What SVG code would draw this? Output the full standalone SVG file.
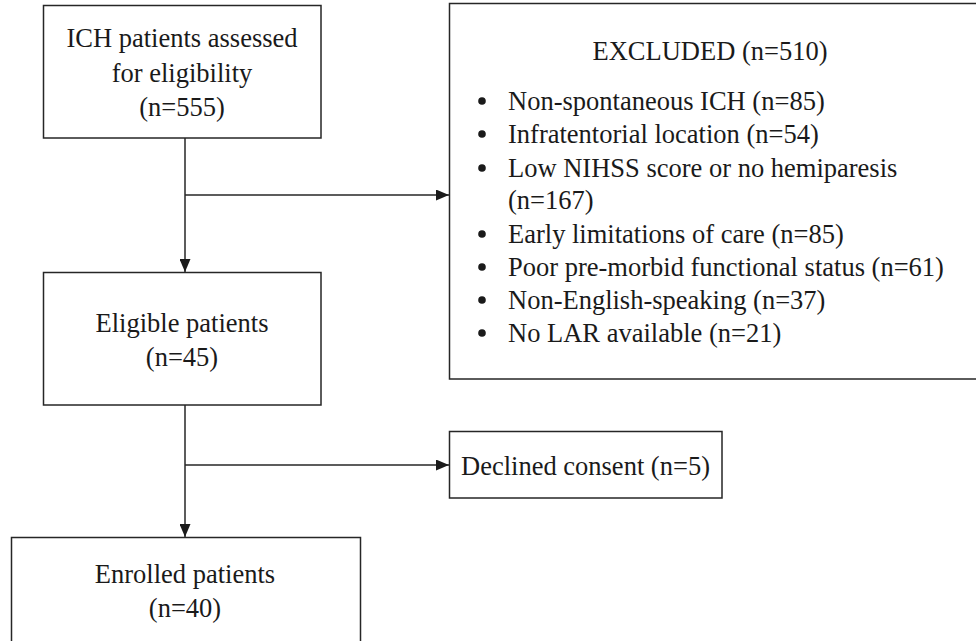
<svg xmlns="http://www.w3.org/2000/svg" width="976" height="641" viewBox="0 0 976 641">
<style>
.box{fill:#fff;stroke:#262626;stroke-width:1.5}
.ln{fill:none;stroke:#262626;stroke-width:1.5}
.t{font-family:'Liberation Serif','DejaVu Serif',serif;font-size:26.5px;fill:#1a1a1a}
.c{text-anchor:middle}
</style>
<defs>
<marker id="ah" viewBox="0 0 13 11" refX="13" refY="5.5" markerWidth="13" markerHeight="11" markerUnits="userSpaceOnUse" orient="auto">
<path d="M0,0 L13,5.5 L0,11 Z" fill="#1a1a1a"/>
</marker>
</defs>
<rect width="976" height="641" fill="#fff"/>
<g id="connectors">
<path class="ln" d="M185,138 V272" marker-end="url(#ah)"/>
<path class="ln" d="M185,195 H449" marker-end="url(#ah)"/>
<path class="ln" d="M185,405 V537" marker-end="url(#ah)"/>
<path class="ln" d="M185,465 H449" marker-end="url(#ah)"/>
</g>
<g id="assessed" class="t" font-family="Liberation Serif, serif">
<rect class="box" x="43.5" y="5.5" width="277.5" height="132.5"/>
<text class="c" x="182" y="47">ICH patients assessed</text>
<text class="c" x="182" y="82">for eligibility</text>
<text class="c" x="182" y="116">(n=555)</text>
</g>
<g id="excluded" class="t" font-family="Liberation Serif, serif">
<rect class="box" x="449.5" y="3.5" width="540" height="375.5"/>
<text class="c" x="710" y="60">EXCLUDED (n=510)</text>
<g fill="#1a1a1a">
<circle cx="482" cy="101" r="3.8"/>
<circle cx="482" cy="134" r="3.8"/>
<circle cx="482" cy="168" r="3.8"/>
<circle cx="482" cy="234" r="3.8"/>
<circle cx="482" cy="267" r="3.8"/>
<circle cx="482" cy="300" r="3.8"/>
<circle cx="482" cy="333" r="3.8"/>
</g>
<text x="508" y="110">Non-spontaneous ICH (n=85)</text>
<text x="508" y="143">Infratentorial location (n=54)</text>
<text x="508" y="177">Low NIHSS score or no hemiparesis</text>
<text x="508" y="209">(n=167)</text>
<text x="508" y="243">Early limitations of care (n=85)</text>
<text x="508" y="276">Poor pre-morbid functional status (n=61)</text>
<text x="508" y="309">Non-English-speaking (n=37)</text>
<text x="508" y="342">No LAR available (n=21)</text>
</g>
<g id="eligible" class="t" font-family="Liberation Serif, serif">
<rect class="box" x="43.5" y="272.5" width="277.5" height="132.5"/>
<text class="c" x="182" y="332">Eligible patients</text>
<text class="c" x="182" y="366">(n=45)</text>
</g>
<g id="declined" class="t" font-family="Liberation Serif, serif">
<rect class="box" x="449.5" y="431.5" width="272.5" height="66.5"/>
<text class="c" x="585.5" y="475">Declined consent (n=5)</text>
</g>
<g id="enrolled" class="t" font-family="Liberation Serif, serif">
<rect class="box" x="11.5" y="537.5" width="349" height="120"/>
<text class="c" x="185" y="583">Enrolled patients</text>
<text class="c" x="185" y="617">(n=40)</text>
</g>
</svg>
